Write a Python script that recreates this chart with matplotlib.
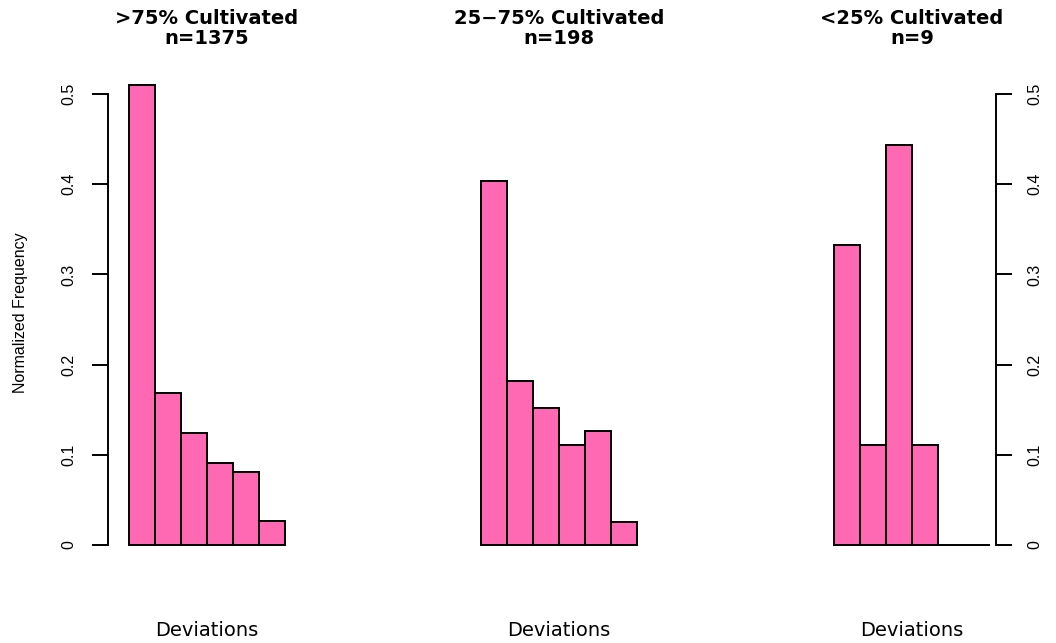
import matplotlib
matplotlib.use("Agg")
import matplotlib.pyplot as plt

# normalized deviation frequencies per cultivation class
titles = [">75% Cultivated", "25\u221275% Cultivated", "<25% Cultivated"]
counts = ["n=1375", "n=198", "n=9"]
freq_high = [0.510, 0.1685, 0.124, 0.091, 0.081, 0.027]
freq_mid = [0.404, 0.182, 0.1515, 0.111, 0.126, 0.025]
freq_low = [0.333, 0.111, 0.444, 0.111, 0.0, 0.0]
yticks = [0, 0.1, 0.2, 0.3, 0.4, 0.5]
ytick_labels = ["0", "0.1", "0.2", "0.3", "0.4", "0.5"]

W, H = 1056, 643
fig = plt.figure(figsize=(W / 100, H / 100), dpi=100)

PX_PER_UNIT = 26.0     # horizontal pixels per bar
Y0, PX_PER_Y = 545.0, 902.0
YTOP = 0.53

# (first bar left edge, axes left px, axes right px, which y axis)
panels = [
    (129, 108, 300, "left"),
    (481, 470, 650, None),
    (834, 820, 996, "right"),
]
data = [freq_high, freq_mid, freq_low]

tick_font = dict(family="Liberation Sans", size=11.5)

for (x0, xa, xb, side), vals, title, n in zip(panels, data, titles, counts):
    top_px = Y0 - YTOP * PX_PER_Y
    ax = fig.add_axes([xa / W, 1 - Y0 / H, (xb - xa) / W, (Y0 - top_px) / H])
    ax.set_xlim((xa - x0) / PX_PER_UNIT, (xb - x0) / PX_PER_UNIT)
    ax.set_ylim(0, YTOP)
    ax.bar(range(len(vals)), vals, width=1.0, align="edge",
           color="#FF69B4", edgecolor="black", linewidth=1.4, clip_on=False)
    for s in ax.spines.values():
        s.set_visible(False)
    ax.set_xticks([])
    if side is None:
        ax.set_yticks([])
    else:
        sp = ax.spines[side]
        sp.set_visible(True)
        sp.set_bounds(0, 0.5)
        sp.set_linewidth(1.4)
        ax.yaxis.set_ticks_position(side)
        ax.set_yticks(yticks)
        ax.set_yticklabels(ytick_labels, rotation=90, va="center", **tick_font)
        ax.tick_params(axis="y", direction="out", length=11.5, width=1.4, pad=11)
    ax.patch.set_visible(False)

    cx = (x0 + 3 * PX_PER_UNIT) / W
    fig.text(cx, 1 - 18 / H, title, ha="center", va="center",
             family="DejaVu Sans", weight="bold", size=14)
    fig.text(cx, 1 - 38 / H, n, ha="center", va="center",
             family="DejaVu Sans", weight="bold", size=14)
    fig.text(cx, 1 - 630 / H, "Deviations", ha="center", va="center",
             family="DejaVu Sans", size=14)

fig.text(21 / W, 1 - 313 / H, "Normalized Frequency", rotation=90,
         ha="center", va="center", family="Liberation Sans", size=11.5)

fig.savefig("out.png", dpi=100, facecolor="white")
